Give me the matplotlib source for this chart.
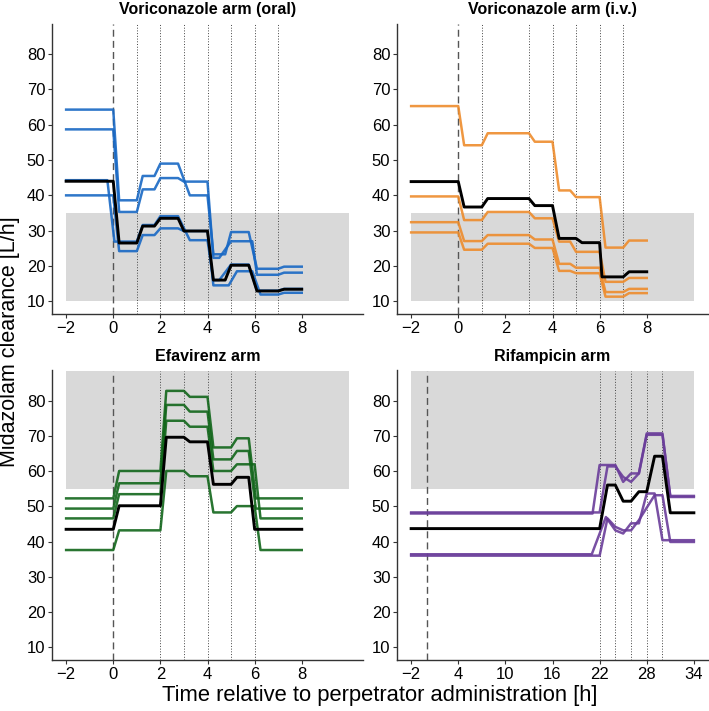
import matplotlib
matplotlib.use("Agg")
import matplotlib.pyplot as plt

plt.rcParams['font.family'] = ['Liberation Sans', 'DejaVu Sans']

# ---- Voriconazole arm (oral) ----
oral_samples = [1, 2, 3, 4, 5, 6, 7]
oral_blue = [
    ([-2, 0, 0.25, 1, 1.25, 1.75, 2, 2.75, 3.25, 4, 4.25, 4.75, 5, 5.75, 6.1, 7, 7.25, 8],
     [64.3, 64.3, 38.6, 38.6, 45.5, 45.5, 49.0, 49.0, 40.0, 40.0, 23.3, 23.3, 29.6, 29.6, 19.2, 19.2, 19.8, 19.8]),
    ([-2, 0, 0.25, 1, 1.25, 1.75, 2, 2.75, 3, 4, 4.25, 4.5, 5, 5.9, 6.1, 7, 7.25, 8],
     [58.7, 58.7, 35.3, 35.3, 41.7, 41.7, 44.9, 44.9, 43.9, 43.9, 22.3, 22.3, 27.0, 27.0, 17.5, 17.5, 18.1, 18.1]),
    ([-2, -0.25, 0.05, 1, 1.25, 1.75, 2, 2.75, 3.25, 4, 4.25, 4.5, 5, 5.75, 6.1, 7, 7.25, 8],
     [44.3, 44.3, 26.9, 26.9, 31.6, 31.6, 34.1, 34.1, 27.3, 27.3, 16.0, 16.0, 20.4, 20.4, 13.0, 13.0, 13.5, 13.5]),
    ([-2, 0, 0.25, 1, 1.25, 1.75, 2, 2.75, 3, 4, 4.25, 4.9, 5.25, 5.9, 6.25, 7, 7.25, 8],
     [40.0, 40.0, 24.2, 24.2, 28.75, 28.75, 30.65, 30.65, 29.9, 29.9, 14.5, 14.5, 18.5, 18.5, 11.9, 11.9, 12.4, 12.4]),
]
oral_black = ([-2, 0, 0.25, 1, 1.25, 1.75, 2, 2.75, 3, 4, 4.25, 4.75, 5, 5.75, 6.1, 7, 7.25, 8],
              [44.0, 44.0, 26.5, 26.5, 31.3, 31.3, 33.5, 33.5, 29.9, 29.9, 16.0, 16.0, 20.2, 20.2, 12.9, 12.9, 13.4, 13.4])

# ---- Voriconazole arm (i.v.) ----
iv_samples = [1, 3, 4, 5, 6, 7]
iv_t = [-2, 0, 0.25, 1, 1.25, 3, 3.25, 4, 4.28, 4.75, 5.0, 6, 6.25, 7, 7.25, 8]
iv_orange = [
    [65.3, 65.3, 54.2, 54.2, 57.6, 57.6, 55.2, 55.2, 41.4, 41.4, 39.5, 39.5, 25.2, 25.2, 27.2, 27.2],
    [39.7, 39.7, 33.0, 33.0, 35.3, 35.3, 33.5, 33.5, 26.9, 26.9, 24.0, 24.0, 15.5, 15.5, 16.6, 16.6],
    [32.4, 32.4, 27.05, 27.05, 28.75, 28.75, 27.5, 27.5, 20.6, 20.6, 19.5, 19.5, 12.6, 12.6, 13.5, 13.5],
    [29.5, 29.5, 24.6, 24.6, 26.3, 26.3, 25.1, 25.1, 18.6, 18.6, 17.95, 17.95, 11.3, 11.3, 12.3, 12.3],
]
iv_black_t = [-2, 0, 0.25, 1, 1.25, 3, 3.25, 4, 4.28, 5.0, 5.25, 6, 6.1, 7, 7.25, 8]
iv_black = [43.9, 43.9, 36.7, 36.7, 39.1, 39.1, 37.1, 37.1, 27.8, 27.8, 26.6, 26.6, 16.9, 16.9, 18.35, 18.35]

# ---- Efavirenz arm ----
efa_samples = [2, 3, 4, 5, 6]
efa_green = [
    ([-2, 0, 0.25, 2, 2.25, 3, 3.25, 4, 4.25, 5, 5.25, 5.75, 6.05, 8],
     [52.3, 52.3, 60.1, 60.1, 82.9, 82.9, 81.2, 81.2, 66.8, 66.8, 69.4, 69.4, 52.3, 52.3]),
    ([-2, 0, 0.25, 2, 2.25, 3, 3.25, 4, 4.25, 5, 5.25, 5.75, 6.05, 8],
     [49.4, 49.4, 56.6, 56.6, 78.9, 78.9, 77.0, 77.0, 63.4, 63.4, 65.8, 65.8, 49.4, 49.4]),
    ([-2, 0, 0.25, 2, 2.25, 3, 3.25, 4, 4.25, 5, 5.25, 6.0, 6.25, 8],
     [46.6, 46.6, 53.5, 53.5, 74.4, 74.4, 72.7, 72.7, 60.1, 60.1, 62.0, 62.0, 46.6, 46.6]),
    ([-2, 0, 0.25, 2, 2.25, 3, 3.25, 4, 4.25, 5, 5.25, 6.0, 6.25, 8],
     [37.6, 37.6, 43.2, 43.2, 60.1, 60.1, 58.6, 58.6, 48.3, 48.3, 50.1, 50.1, 37.6, 37.6]),
]
efa_black = ([-2, 0, 0.25, 2, 2.25, 3, 3.25, 4, 4.25, 5, 5.25, 5.75, 6.0, 8],
             [43.5, 43.5, 50.2, 50.2, 69.7, 69.7, 68.4, 68.4, 56.3, 56.3, 58.3, 58.3, 43.5, 43.5])

# ---- Rifampicin arm ----
rif_samples = [22, 24, 26, 28, 30]
rif_purple = [
    ([-2, 21.1, 22.0, 24.0, 25.0, 26.0, 27.0, 28.0, 30.0, 31.0, 34],
     [48.0, 48.0, 61.8, 61.8, 57.0, 59.4, 59.4, 70.8, 70.8, 52.7, 52.7]),
    ([-2, 22.0, 23.0, 24.0, 25.0, 26.0, 27.0, 28.0, 30.0, 31.0, 34],
     [48.3, 48.3, 61.4, 61.4, 58.4, 57.0, 59.4, 70.4, 70.4, 53.0, 53.0]),
    ([-2, 21.0, 22.8, 24.0, 25.0, 26.0, 27.0, 28.0, 29.0, 30.0, 34],
     [36.4, 36.4, 47.0, 43.2, 42.3, 45.2, 45.2, 53.7, 53.7, 40.4, 40.4]),
    ([-2, 22.0, 23.0, 24.0, 25.0, 26.0, 27.0, 29.0, 30.0, 31.0, 34],
     [36.0, 36.0, 46.6, 44.2, 43.2, 43.2, 46.1, 53.2, 53.2, 39.9, 39.9]),
]
rif_black = ([-2, 22, 23, 24, 25, 26, 27, 28, 29, 30, 31, 34],
             [43.7, 43.7, 56.1, 56.1, 51.5, 51.5, 54.2, 54.2, 64.3, 64.3, 48.2, 48.2])

ylim = (6.3, 88.7)
yticks = [10, 20, 30, 40, 50, 60, 70, 80]

fig = plt.figure(figsize=(7.09, 7.11), dpi=100)
W, H = 709, 711

def make_ax(left, top, right, bottom):
    return fig.add_axes([left / W, 1 - bottom / H, (right - left) / W, (bottom - top) / H])

def style(ax, title, xlim, xticks, samples, band):
    ax.set_xlim(*xlim)
    ax.set_ylim(*ylim)
    ax.set_xticks(xticks)
    ax.set_yticks(yticks)
    for s in ['top', 'right']:
        ax.spines[s].set_visible(False)
    for s in ['left', 'bottom']:
        ax.spines[s].set_color('#333333')
        ax.spines[s].set_linewidth(1.0)
    ax.tick_params(axis='both', colors='#333333', labelcolor='black',
                   labelsize=12, length=3, width=0.8, direction='out', pad=1.8)
    ax.set_title(title, fontsize=11.5, fontweight='bold', pad=7)
    x0, x1, y0, y1 = band
    ax.fill_between([x0, x1], [y0, y0], [y1, y1], color='#d9d9d9', lw=0, zorder=0)
    ax.axvline(0, color='#555555', lw=1.0, ls=(0, (5, 3)), zorder=1)
    for s in samples:
        ax.axvline(s, color='#444444', lw=0.7, ls=(0, (1, 1.8)), zorder=1)

ax1 = make_ax(52, 23.5, 363, 314.3)
ax2 = make_ax(397, 23.5, 708, 314.3)
ax3 = make_ax(52, 370.5, 363, 660)
ax4 = make_ax(397, 370.5, 708, 660)

top_xt = [-2, 0, 2, 4, 6, 8]
style(ax1, "Voriconazole arm (oral)", (-2.6, 10.6), top_xt, oral_samples, (-2, 10, 10, 35))
style(ax2, "Voriconazole arm (i.v.)", (-2.6, 10.6), top_xt, iv_samples, (-2, 10, 10, 35))
style(ax3, "Efavirenz arm", (-2.6, 10.6), top_xt, efa_samples, (-2, 10, 55, ylim[1]))
style(ax4, "Rifampicin arm", (-3.8, 35.8), [-2, 4, 10, 16, 22, 28, 34], rif_samples, (-2, 34, 55, ylim[1]))

lw_c, lw_k, a = 1.8, 2.1, 0.9
for t, v in oral_blue:
    ax1.plot(t, v, color='#1868c4', lw=lw_c, alpha=a, zorder=2)
ax1.plot(*oral_black, color='black', lw=lw_k, zorder=3)

for v in iv_orange:
    ax2.plot(iv_t, v, color='#ee8c2c', lw=lw_c, alpha=a, zorder=2)
ax2.plot(iv_black_t, iv_black, color='black', lw=lw_k, zorder=3)

for t, v in efa_green:
    ax3.plot(t, v, color='#11661a', lw=lw_c, alpha=a, zorder=2)
ax3.plot(*efa_black, color='black', lw=lw_k, zorder=3)

for t, v in rif_purple:
    ax4.plot(t, v, color='#6a3d9a', lw=lw_c, alpha=a, zorder=2)
ax4.plot(*rif_black, color='black', lw=lw_k, zorder=3)

fig.text(10 / W, 1 - 342 / H, "Midazolam clearance [L/h]", rotation=90,
         ha='center', va='center', fontsize=15.5)
fig.text(380 / W, 1 - 695 / H, "Time relative to perpetrator administration [h]",
         ha='center', va='center', fontsize=15.8)

fig.savefig("out.png", dpi=100)
